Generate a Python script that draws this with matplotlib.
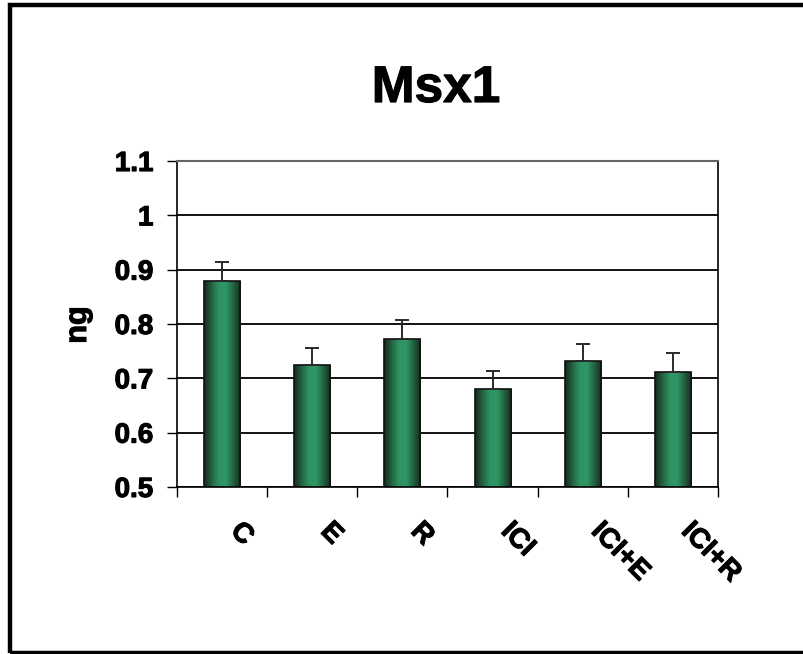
import matplotlib
matplotlib.use("Agg")
import matplotlib.pyplot as plt
import matplotlib.transforms as mtransforms
import matplotlib.patheffects as pe
from matplotlib.colors import LinearSegmentedColormap
from matplotlib.patches import Rectangle
import numpy as np

# Data
groups = ["C", "E", "R", "ICI", "ICI+E", "ICI+R"]
means = [0.880, 0.724, 0.773, 0.680, 0.732, 0.712]
errors = [0.035, 0.032, 0.034, 0.034, 0.032, 0.034]
y_ticks = [0.5, 0.6, 0.7, 0.8, 0.9, 1.0, 1.1]
y_tick_labels = ["0.5", "0.6", "0.7", "0.8", "0.9", "1", "1.1"]

plt.rcParams['font.family'] = ['Liberation Sans', 'DejaVu Sans']
plt.rcParams['font.weight'] = 'bold'

heavy = [pe.withStroke(linewidth=0.8, foreground='black')]

fig = plt.figure(figsize=(8.04, 6.54), dpi=100)
ax = fig.add_axes([0.2201, 0.2554, 0.6729, 0.4984])

x = np.arange(len(groups))
y_min, y_max = y_ticks[0], y_ticks[-1]

# bars with a cylinder-like shading
bars = ax.bar(x, means, width=0.4, facecolor='none', edgecolor='#111111',
              linewidth=1.2, zorder=3)
shade = LinearSegmentedColormap.from_list(
    "shade", ["#16291d", "#23623f", "#2e9262", "#2f9665", "#23623f", "#16291d"])
grad = np.linspace(0, 1, 200).reshape(1, -1)
for bar in bars:
    img = ax.imshow(grad, cmap=shade, aspect='auto', interpolation='bicubic',
                    extent=(bar.get_x(), bar.get_x() + bar.get_width(),
                            y_min, bar.get_height()), zorder=2)
    img.set_clip_path(bar)

# plus-only error bars
ax.errorbar(x, means, yerr=[np.zeros(len(errors)), errors], fmt='none',
            ecolor='#2a2a2a', elinewidth=1.4, capsize=5, capthick=1.4, zorder=4)

ax.set_xlim(-0.5, len(groups) - 0.5)
ax.set_ylim(y_min, y_max)

# gridlines
ax.set_yticks(y_ticks)
ax.set_yticklabels(y_tick_labels, fontsize=20, fontweight='bold')
for lbl in ax.get_yticklabels():
    lbl.set_path_effects(heavy)
ax.yaxis.grid(True, color='black', linewidth=1.3, zorder=0)
ax.set_axisbelow(True)
ax.tick_params(axis='y', length=7, width=1, pad=10, colors='black')

# x ticks at category boundaries, labels rotated
ax.set_xticks(x)
ax.set_xticklabels([])
ax.tick_params(axis='x', which='major', length=0)
ax.set_xticks(np.arange(-0.5, len(groups), 1), minor=True)
ax.tick_params(axis='x', which='minor', length=7, width=1, direction='out')

trans = mtransforms.blended_transform_factory(ax.transData, ax.transAxes)
for xi, name in zip(x, groups):
    ax.text(xi + 0.24, -0.095, name, transform=trans, rotation=-45,
            rotation_mode='anchor', ha='left', va='top', fontsize=20,
            fontweight='bold', path_effects=heavy)

for side in ['left', 'bottom', 'right']:
    ax.spines[side].set_color('black')
    ax.spines[side].set_linewidth(1.2)
ax.spines['top'].set_color('#666666')
ax.spines['top'].set_linewidth(1.5)

# Title and y label
fig.text(436 / 804, 0.844, "Msx1", ha='center', va='baseline',
         fontsize=37, fontweight='bold', path_effects=heavy)
fig.text(78 / 804, 0.503, "ng", rotation=90, ha='center', va='center',
         fontsize=22, fontweight='bold', path_effects=heavy)

# outer frame (no right edge visible)
fig.patches.append(Rectangle((10.5 / 804, 1.5 / 654), 1.1, 647.5 / 654,
                             transform=fig.transFigure, fill=False,
                             edgecolor='black', linewidth=3.2))

fig.savefig("out.png", dpi=100)
